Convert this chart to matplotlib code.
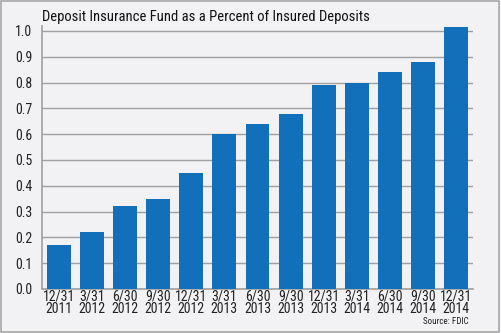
import matplotlib
matplotlib.use("Agg")
import matplotlib.pyplot as plt
from matplotlib.patches import Rectangle

categories = ["12/31\n2011", "3/31\n2012", "6/30\n2012", "9/30\n2012", "12/31\n2012",
              "3/31\n2013", "6/30\n2013", "9/30\n2013", "12/31\n2013", "3/31\n2014",
              "6/30\n2014", "9/30\n2014", "12/31\n2014"]
values = [0.17, 0.22, 0.32, 0.35, 0.45, 0.60, 0.64, 0.68, 0.79, 0.80, 0.84, 0.88, 1.015]
yticks = [0.0, 0.1, 0.2, 0.3, 0.4, 0.5, 0.6, 0.7, 0.8, 0.9, 1.0]

plt.rcParams['font.family'] = ['Roboto Condensed', 'DejaVu Sans']

bg = "#f2f2f4"
fig = plt.figure(figsize=(5.01, 3.33), dpi=100, facecolor=bg)
fig.patches.append(Rectangle((0.002, 0.003), 0.995, 0.993, transform=fig.transFigure,
                             fill=False, edgecolor="#a8a8a8", linewidth=1.2))
ax = fig.add_axes([42/501, 1-289/333, 431/501, (289-25.8)/333])
ax.set_facecolor(bg)
x = list(range(len(categories)))
ax.bar(x, values, width=0.72, color="#1170b9", zorder=3)
ax.set_xlim(-0.5, len(categories)-0.5)
ax.set_ylim(0, 1.02)
ax.set_yticks(yticks)
ax.set_yticklabels([f"{v:.1f}" for v in yticks], fontsize=10, color="#222222")
ax.set_xticks(x)
ax.set_xticklabels(categories, fontsize=10, color="#222222", linespacing=0.88)
ax.tick_params(axis="x", length=0, pad=0.5)
ax.tick_params(axis="y", length=0, pad=7)
ax.grid(axis="y", color="#a0a0a0", linewidth=1.0, zorder=0)
for s in ["top", "right"]:
    ax.spines[s].set_visible(False)
for s in ["left", "bottom"]:
    ax.spines[s].set_color("#a0a0a0")
    ax.spines[s].set_linewidth(1.2)
fig.text(42/501, 1-17/333, "Deposit Insurance Fund as a Percent of Insured Deposits",
         fontsize=10.5, va="center", ha="left", color="#111111")
fig.text(469/501, 1-321/333, "Source: FDIC", fontsize=6.5, ha="right", va="center", color="#222222")
fig.savefig("out.png", dpi=100, facecolor=bg)
